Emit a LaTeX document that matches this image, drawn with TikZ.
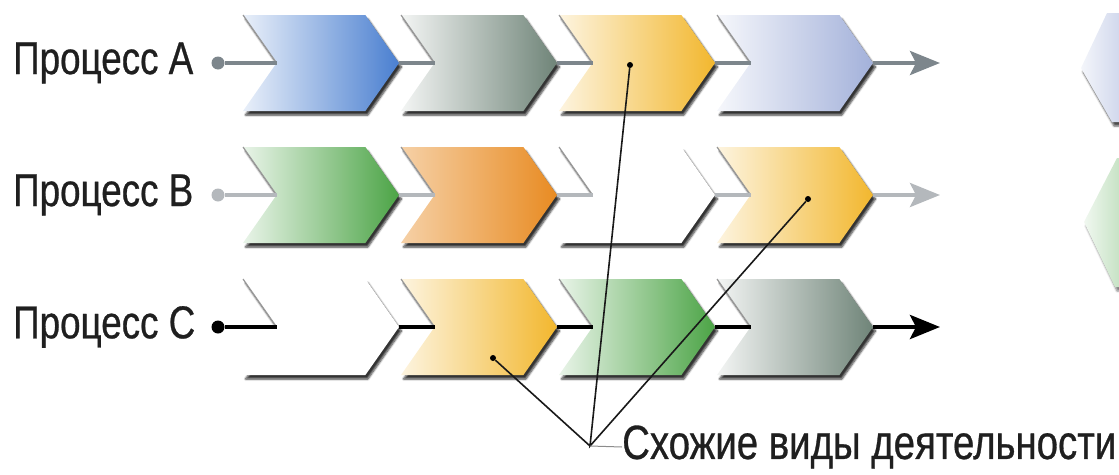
\documentclass[tikz,border=0pt]{standalone}
\usepackage{fontspec}
\setmainfont{Liberation Sans}[FakeStretch=0.8, FakeBold=0.6]
\usetikzlibrary{shapes.symbols,shadows.blur,arrows.meta,positioning}

\definecolor{cblue}{HTML}{4A7FD0}
\definecolor{cgrey}{HTML}{6F8478}
\definecolor{cyell}{HTML}{F2B72E}
\definecolor{clav}{HTML}{A3B1DA}
\definecolor{cgreen}{HTML}{4CA446}
\definecolor{corange}{HTML}{E88B22}
\definecolor{lineA}{HTML}{7D868C}
\definecolor{lineB}{HTML}{B4B8BC}

\begin{document}
\begin{tikzpicture}[x=1pt,y=-1pt,
    chev/.style 2 args={signal, signal from=west, signal to=east, signal pointer angle=110,
      minimum width=156pt, minimum height=96pt, inner sep=0pt, outer sep=0pt,
      left color=#1!#2, right color=#1,
      blur shadow={shadow xshift=2.5pt, shadow yshift=-4pt, shadow opacity=80,
        shadow blur radius=2pt, shadow blur steps=6}},
    edge/.style={draw=black!40, line width=1.2pt},
    lbl/.style={font=\fontsize{46}{50}\selectfont, text=black!88, anchor=west, inner sep=0pt},
    dotn/.style={circle, inner sep=0pt, minimum size=13pt},
    pt/.style={circle, fill=black, inner sep=0pt, minimum size=6pt},
    ptr/.style={draw=black!90, line width=1.6pt},
    tip/.style={-{Stealth[length=30pt, width=24pt, inset=6pt]}}]

\useasboundingbox (0,0) rectangle (1119,474);

% partly hidden shapes at the right edge
\path[left color=clav!12, right color=clav!55,
  blur shadow={shadow xshift=2pt, shadow yshift=-4pt, shadow opacity=70, shadow blur radius=2pt}]
  (1107,13) -- (1081,68) -- (1112,122) -- (1125,122) -- (1125,13) -- cycle;
\path[left color=cgreen!8, right color=cgreen!35,
  blur shadow={shadow xshift=2pt, shadow yshift=-4pt, shadow opacity=50, shadow blur radius=2pt}]
  (1117,158) -- (1084,222) -- (1115,287) -- (1125,287) -- (1125,158) -- cycle;

% rows of chevrons
\foreach \c/\p [count=\i] in {cblue/12, cgrey/8, cyell/15, clav/10}{
  \node[chev={\c}{\p}] (a\i) at (163+158*\i,63) {};
  \draw[edge] (a\i.north west) -- (a\i.west);
}
\foreach \c/\p [count=\i] in {cgreen/12, corange/40, white/100, cyell/15}{
  \node[chev={\c}{\p}] (b\i) at (163+158*\i,195) {};
  \draw[edge] (b\i.north west) -- (b\i.west);
}
\foreach \c/\p [count=\i] in {white/100, cyell/15, cgreen/12, cgrey/8}{
  \node[chev={\c}{\p}] (c\i) at (163+158*\i,327) {};
  \draw[edge] (c\i.north west) -- (c\i.west);
}

% labels and process lines
\node[lbl] (la) at (13,63) {Процесс A};
\node[lbl] (lb) at (13,195) {Процесс B};
\node[lbl] (lc) at (13,327) {Процесс C};

\node[dotn, fill=lineA] (da) at (218,63) {};
\node[dotn, fill=lineB] (db) at (218,195) {};
\node[dotn, fill=black] (dc) at (218,327) {};
\coordinate (ea) at (940,63);
\coordinate (eb) at (940,195);
\coordinate (ec) at (940,327);

\draw[lineA, line width=4pt] (da) -- (a1.west) (a1.east) -- (a2.west)
  (a2.east) -- (a3.west) (a3.east) -- (a4.west);
\draw[lineA, line width=4pt, tip] (a4.east) -- (ea);
\draw[lineB, line width=4pt] (db) -- (b1.west) (b1.east) -- (b2.west)
  (b2.east) -- (b3.west) (b3.east) -- (b4.west);
\draw[lineB, line width=4pt, tip] (b4.east) -- (eb);
\draw[black, line width=4.5pt] (dc) -- (c1.west) (c1.east) -- (c2.west)
  (c2.east) -- (c3.west) (c3.east) -- (c4.west);
\draw[black, line width=4.5pt, tip] (c4.east) -- (ec);

% similar activities
\node[pt] (pa) at (630,65) {};
\node[pt] (pb) at (808,199) {};
\node[pt] (pc) at (493,358) {};
\coordinate (meet) at (590,446);
\node[lbl, font=\fontsize{48}{52}\selectfont] (sim) at (622,447) {Схожие виды деятельности};
\draw[ptr] (pa) -- (meet) -- (pb) (pc) -- (meet);
\draw[black!45, line width=1pt] (meet) -- (sim.west);
\end{tikzpicture}
\end{document}
